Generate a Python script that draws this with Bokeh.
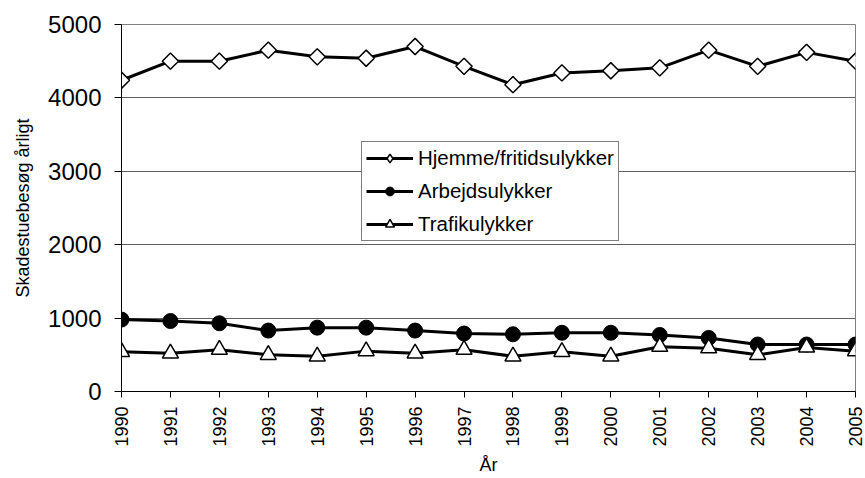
import math
from bokeh.plotting import figure
from bokeh.models import Range1d, FixedTicker, Legend
from bokeh.embed import file_html
from bokeh.resources import INLINE

years = list(range(1990, 2006))
hjemme = [4240, 4500, 4500, 4650, 4560, 4540, 4700, 4430, 4180, 4340, 4370, 4410, 4650, 4430, 4620, 4500]
arbejds = [980, 960, 930, 830, 870, 870, 830, 790, 780, 800, 800, 770, 730, 640, 640, 640]
trafik = [540, 520, 570, 500, 480, 550, 520, 570, 480, 540, 480, 610, 590, 500, 600, 550]
y_ticks = [0, 1000, 2000, 3000, 4000, 5000]
labels = ["Hjemme/fritidsulykker", "Arbejdsulykker", "Trafikulykker"]
x_title = "År"
y_title = "Skadestuebesøg årligt"

FONT = "Liberation Sans"

p = figure(width=865, height=478, output_backend="svg", toolbar_location=None,
           x_range=Range1d(1990, 2005), y_range=Range1d(0, 5000),
           min_border_left=121, min_border_right=10, min_border_top=24, min_border_bottom=87)
p.background_fill_color = "white"
p.border_fill_color = "white"
p.outline_line_color = "#808080"
p.outline_line_width = 1

p.xgrid.visible = False
p.ygrid.grid_line_color = "#606060"
p.ygrid.grid_line_width = 1

p.xaxis.ticker = FixedTicker(ticks=years)
p.yaxis.ticker = FixedTicker(ticks=y_ticks)
for ax in (p.xaxis[0], p.yaxis[0]):
    ax.axis_line_color = "black"
    ax.axis_line_width = 1
    ax.major_tick_line_color = "black"
    ax.major_tick_in = 0
    ax.minor_tick_line_color = None
    ax.major_label_text_font = FONT
    ax.axis_label_text_font = FONT
    ax.axis_label_text_font_style = "normal"
    ax.axis_label_text_color = "black"
    ax.major_label_text_color = "black"

p.xaxis.major_tick_out = 6
p.yaxis.major_tick_out = 7
p.xaxis.major_label_orientation = math.pi / 2
p.xaxis.major_label_text_font_size = "18px"
p.xaxis.major_label_standoff = 9
p.yaxis.major_label_text_font_size = "24px"
p.yaxis.major_label_standoff = 13
p.xaxis.axis_label = x_title
p.yaxis.axis_label = y_title
p.xaxis.axis_label_text_font_size = "18px"
p.yaxis.axis_label_text_font_size = "18px"
p.xaxis.axis_label_standoff = 5
p.yaxis.axis_label_standoff = 12

lw = 3
r1 = p.line(years, hjemme, line_color="black", line_width=lw)
# small diamond hidden under the rotated square: gives the legend a diamond glyph
s1_leg = p.scatter(years, hjemme, marker="diamond", size=12,
                   fill_color="white", line_color="black", line_width=1.5)
s1 = p.scatter(years, hjemme, marker="square", angle=math.pi / 4, size=11.5,
               fill_color="white", line_color="black", line_width=1.5)
r2 = p.line(years, arbejds, line_color="black", line_width=lw)
s2 = p.scatter(years, arbejds, marker="circle", size=15,
               fill_color="black", line_color="black", line_width=1)
r3 = p.line(years, trafik, line_color="black", line_width=lw)
s3 = p.scatter(years, trafik, marker="triangle", size=16,
               fill_color="white", line_color="black", line_width=1.5)

legend = Legend(items=[(labels[0], [r1, s1_leg]), (labels[1], [r2, s2]), (labels[2], [r3, s3])],
                location=(240, 150))
legend.label_text_font = FONT
legend.label_text_font_size = "20.5px"
legend.label_text_color = "black"
legend.glyph_width = 47
legend.glyph_height = 22
legend.label_height = 22
legend.label_standoff = 5
legend.spacing = 9
legend.padding = 4
legend.margin = 0
legend.border_line_color = "black"
legend.border_line_width = 1
legend.background_fill_color = "white"
legend.background_fill_alpha = 1
p.add_layout(legend, "center")

open("out.html", "w").write(file_html(p, INLINE))
